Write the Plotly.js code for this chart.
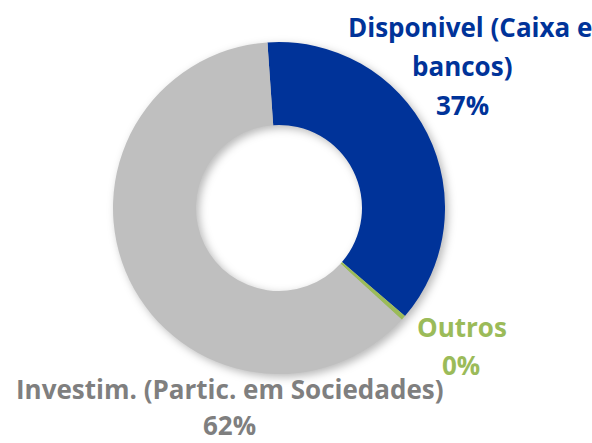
<!DOCTYPE html>
<html>
<head>
<meta charset="utf-8">
<script src="https://cdn.plot.ly/plotly-3.0.1.min.js"></script>
<style>
  html, body { margin: 0; padding: 0; background: #ffffff; }
  #chart { width: 592px; height: 443px; }
  #chart .pielayer { filter: drop-shadow(3px 3px 4px rgba(0,0,0,0.28)); }
</style>
</head>
<body>
<div id="chart"></div>
<script>
// ---- data ----
const categories = ["Disponivel (Caixa e bancos)", "Outros", "Investim. (Partic. em Sociedades)"];
const values = [37.4, 0.45, 62.15];
const labelLines = [["Disponivel (Caixa e", "bancos)"], ["Outros"], ["Investim. (Partic. em Sociedades)"]];
const colors = ["#003399", "#9BBB59", "#BFBFBF"];
const textColors = ["#003399", "#9BBB59", "#7F7F7F"];

// ---- layout helpers ----
const W = 592, H = 443;
const total = values.reduce((a, b) => a + b, 0);
const pct = values.map(v => Math.round(v / total * 100) + "%");

// pixel centres for each label line (position/style only)
const linePos = [
  [[470, 27], [462, 66], [462, 105]],
  [[462, 327], [461, 365]],
  [[229.5, 389], [230, 425]]
];

const annotations = [];
labelLines.forEach((lines, i) => {
  const all = lines.concat([pct[i]]);
  all.forEach((t, j) => {
    const p = linePos[i][j];
    annotations.push({
      text: "<b>" + t + "</b>",
      xref: "paper", yref: "paper",
      x: p[0] / W, y: 1 - p[1] / H,
      xanchor: "center", yanchor: "middle",
      showarrow: false,
      font: { family: "'Open Sans', Lato, sans-serif", size: 26, color: textColors[i] }
    });
  });
});

const cx = 279, cy = 208, r = 166;
const trace = {
  type: "pie",
  labels: categories,
  values: values,
  hole: 0.5,
  sort: false,
  direction: "clockwise",
  rotation: -4,
  textinfo: "none",
  hoverinfo: "label+percent",
  marker: { colors: colors, line: { color: "#ffffff", width: 0 } },
  domain: {
    x: [(cx - r) / W, (cx + r) / W],
    y: [(H - cy - r) / H, (H - cy + r) / H]
  },
  showlegend: false
};

const layout = {
  width: W, height: H,
  margin: { l: 0, r: 0, t: 0, b: 0 },
  paper_bgcolor: "#ffffff",
  plot_bgcolor: "#ffffff",
  showlegend: false,
  annotations: annotations
};

Plotly.newPlot("chart", [trace], layout, { displayModeBar: false, staticPlot: true });
</script>
</body>
</html>
